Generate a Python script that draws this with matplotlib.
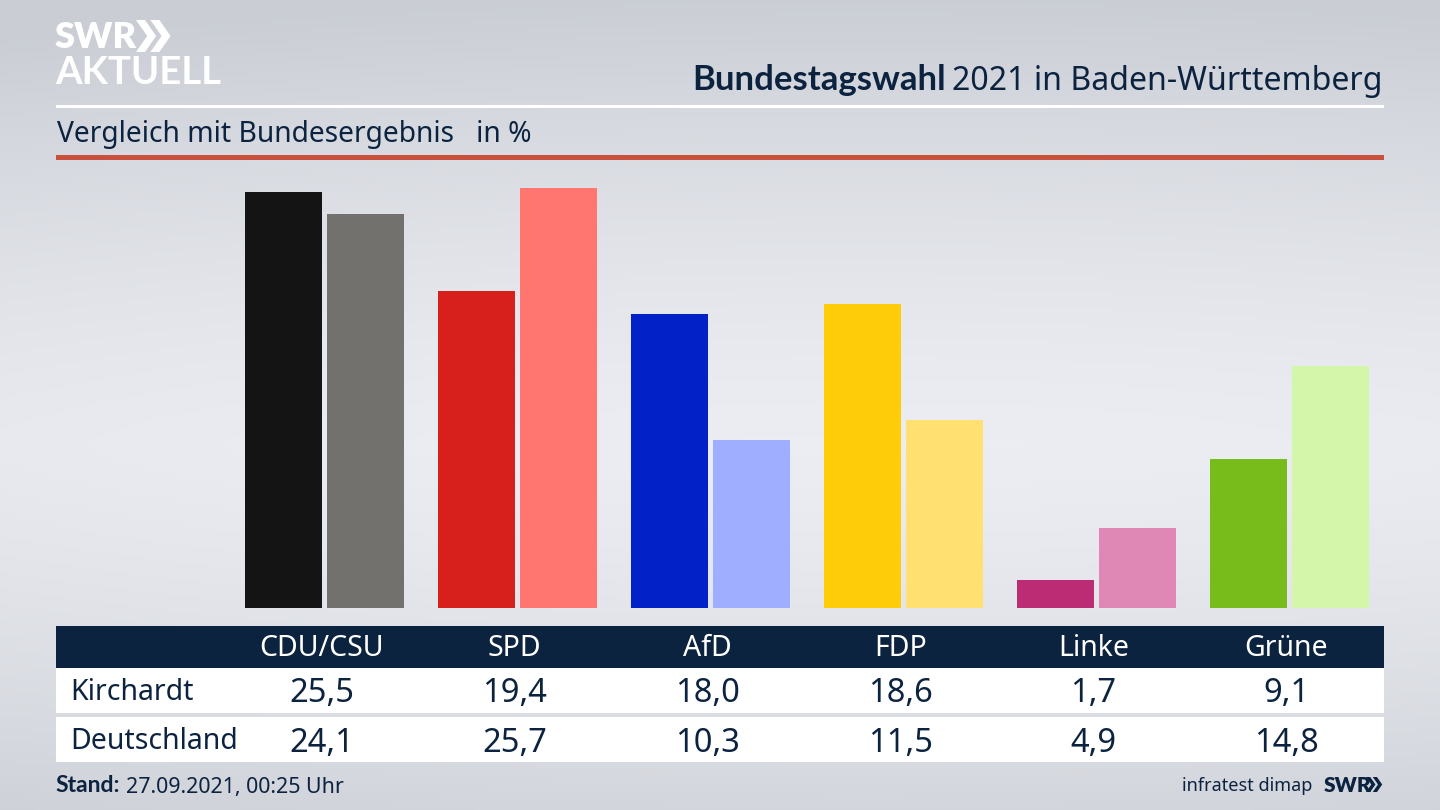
import numpy as np
import matplotlib
matplotlib.use("Agg")
import matplotlib.pyplot as plt
from matplotlib.patches import Rectangle, Polygon

plt.rcParams['font.family'] = ['Noto Sans', 'DejaVu Sans']

parties = ["CDU/CSU", "SPD", "AfD", "FDP", "Linke", "Grüne"]
kirchardt = [25.5, 19.4, 18.0, 18.6, 1.7, 9.1]
deutschland = [24.1, 25.7, 10.3, 11.5, 4.9, 14.8]
row_names = ["Kirchardt", "Deutschland"]
colors_local = ["#141414", "#d7201c", "#0222c8", "#ffcc0a", "#bc2c74", "#78bc1c"]
colors_national = ["#72716e", "#ff7570", "#a0aeff", "#ffe070", "#df88b6", "#d4f6ab"]

NAVY = "#0c2340"
BOLD = 'Lato'
W, H = 1440, 810


def fmt(v):
    return f"{v:.1f}".replace(".", ",")


def draw_background(ax):
    # light band in the middle, darker towards top and bottom and the corners
    yy, xx = np.mgrid[0:1:200j, 0:1:200j]
    v = np.abs(yy - 0.55) / 0.55
    h = 0.35 * np.abs(xx - 0.6) ** 2
    shade = np.clip(v ** 1.4 + h, 0, 1)
    light = np.array([0.925, 0.93, 0.95])
    dark = np.array([0.795, 0.81, 0.835])
    img = light + (dark - light) * shade[..., None]
    ax.imshow(img, extent=[0, W, H, 0], aspect='auto', zorder=0)


def chevrons(ax, x, y, h, color):
    # the two arrows of the SWR logo
    w = h * 0.5
    t = h * 0.28
    for dx in (0, w * 0.9):
        pts = [(x + dx, y), (x + dx + t, y), (x + dx + t + w * 0.7, y + h / 2),
               (x + dx + t, y + h), (x + dx, y + h), (x + dx + w * 0.7, y + h / 2)]
        ax.add_patch(Polygon(pts, closed=True, fc=color, ec='none', zorder=3))


def draw_header(ax):
    ax.text(55, 37, "SWR", color="white", fontsize=26, fontweight='heavy', va='center', ha='left', family=BOLD)
    chevrons(ax, 136, 20, 32, "white")
    ax.text(55, 73, "AKTUELL", color="white", fontsize=27.5, fontweight='bold', va='center', ha='left', family=BOLD)

    ax.text(692, 80, "Bundestagswahl", color=NAVY, fontsize=25, fontweight='bold', va='center', ha='left', family=BOLD)
    ax.text(1383, 81, "2021 in Baden-Württemberg", color=NAVY, fontsize=23.1, va='center', ha='right')
    ax.add_patch(Rectangle((56, 104.5), 1328, 3, fc="white", ec='none', zorder=2))

    ax.text(57, 134.5, "Vergleich mit Bundesergebnis   in %", color=NAVY, fontsize=20.3, va='center', ha='left')
    ax.add_patch(Rectangle((56, 155), 1328, 5, fc="#c8503c", ec='none', zorder=2))


def draw_table(ax):
    ax.add_patch(Rectangle((56, 626), 1328, 42, fc=NAVY, ec='none', zorder=2))
    ax.add_patch(Rectangle((56, 668), 1328, 45, fc="white", ec='none', zorder=2))
    ax.add_patch(Rectangle((56, 717), 1328, 45, fc="white", ec='none', zorder=2))

    ax.text(70, 692.5, row_names[0], color=NAVY, fontsize=20.5, va='center', ha='left', zorder=4)
    ax.text(70, 741.5, row_names[1], color=NAVY, fontsize=20.5, va='center', ha='left', zorder=4)
    for i, name in enumerate(parties):
        x = 321.5 + 193 * i
        ax.text(x, 649, name, color="white", fontsize=20.5, va='center', ha='center', zorder=4)
        ax.text(x, 694, fmt(kirchardt[i]), color=NAVY, fontsize=23.5, va='center', ha='center', zorder=4)
        ax.text(x, 743, fmt(deutschland[i]), color=NAVY, fontsize=23.5, va='center', ha='center', zorder=4)


def draw_footer(ax):
    ax.text(55, 786, "Stand:", color=NAVY, fontsize=16.5, fontweight='bold', va='center', ha='left', family=BOLD)
    ax.text(126, 787, "27.09.2021, 00:25 Uhr", color=NAVY, fontsize=15.4, va='center', ha='left')
    ax.text(1312, 786, "infratest dimap", color=NAVY, fontsize=13, va='center', ha='right')
    ax.text(1324, 785, "SWR", color=NAVY, fontsize=15, fontweight='heavy', va='center', ha='left', family=BOLD)
    chevrons(ax, 1366, 777, 15, NAVY)


def draw_bars(fig):
    # axes placed in pixels so one unit is about 16.33 px tall, one group 193 px wide
    left, right, top, bottom = 228, 1386, 165, 608
    ax = fig.add_axes([left / W, 1 - bottom / H, (right - left) / W, (bottom - top) / H])
    ax.patch.set_alpha(0)
    ax.set_xlim((left - 324.5) / 193, (right - 324.5) / 193)
    ax.set_ylim(0, (bottom - top) / 16.33)
    ax.axis('off')
    x = np.arange(len(parties))
    ax.bar(x - 0.2124, kirchardt, width=0.399, color=colors_local)
    ax.bar(x + 0.2124, deutschland, width=0.399, color=colors_national)
    return ax


def main():
    fig = plt.figure(figsize=(W / 100, H / 100), dpi=100)
    ax = fig.add_axes([0, 0, 1, 1])
    ax.set_xlim(0, W)
    ax.set_ylim(H, 0)
    ax.axis('off')

    draw_background(ax)
    draw_header(ax)
    draw_table(ax)
    draw_footer(ax)
    draw_bars(fig)

    fig.savefig("out.png", dpi=100)
    plt.close()


if __name__ == "__main__":
    main()
